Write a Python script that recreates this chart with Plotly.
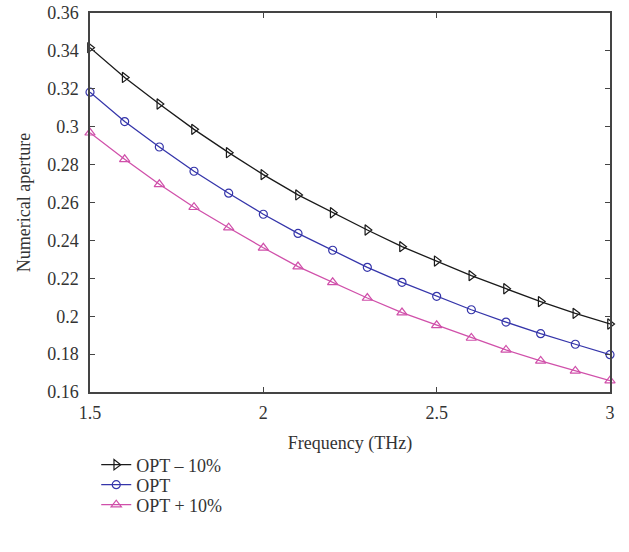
import plotly.graph_objects as go

freq = [1.5, 1.6, 1.7, 1.8, 1.9, 2.0, 2.1, 2.2, 2.3, 2.4, 2.5, 2.6, 2.7, 2.8, 2.9, 3.0]
opt_minus = [0.3417, 0.3260, 0.3120, 0.2986, 0.2863, 0.2747, 0.2640, 0.2546, 0.2455, 0.2367,
             0.2291, 0.2214, 0.2145, 0.2077, 0.2015, 0.1959]
opt = [0.3182, 0.3027, 0.2893, 0.2765, 0.2649, 0.2538, 0.2437, 0.2348, 0.2258, 0.2179,
       0.2105, 0.2034, 0.1969, 0.1908, 0.1852, 0.1797]
opt_plus = [0.2968, 0.2828, 0.2696, 0.2575, 0.2467, 0.2361, 0.2262, 0.2179, 0.2096, 0.2019,
            0.1952, 0.1885, 0.1822, 0.1764, 0.1711, 0.1660]

series_names = ["OPT \u2013 10%", "OPT", "OPT + 10%"]
x_ticks = [1.5, 2, 2.5, 3]
x_ticktext = ["1.5", "2", "2.5", "3"]
y_ticks = [0.16, 0.18, 0.2, 0.22, 0.24, 0.26, 0.28, 0.3, 0.32, 0.34, 0.36]
y_ticktext = ["0.16", "0.18", "0.2", "0.22", "0.24", "0.26", "0.28", "0.3", "0.32", "0.34", "0.36"]

FONT = "Liberation Serif"
FS = 18
TXT = "#333333"

fig = go.Figure()
styles = [
    (opt_minus, "#1a1a1a", "triangle-right-open", 9, "legend"),
    (opt, "#3535aa", "circle-open", 8, "legend2"),
    (opt_plus, "#d050aa", "triangle-up-open", 9, "legend3"),
]
for name, (ys, col, sym, sz, lg) in zip(series_names, styles):
    fig.add_trace(go.Scatter(
        x=freq, y=ys, name=name, mode="lines+markers",
        line=dict(color=col, width=1.3),
        marker=dict(symbol=sym, size=sz, color=col, line=dict(color=col, width=1.2)),
        cliponaxis=False, legend=lg,
    ))

axis_common = dict(
    showgrid=False, zeroline=False, showline=True, linecolor="#444444", linewidth=1.5,
    mirror="ticks", ticks="inside", ticklen=5, tickcolor="#444444", tickwidth=1,
    tickfont=dict(family=FONT, size=FS, color=TXT), automargin=False,
)
fig.update_xaxes(range=[1.5, 3], tickvals=x_ticks, ticktext=x_ticktext,
                 ticklabelstandoff=4,
                 title=dict(text="Frequency (THz)", font=dict(family=FONT, size=FS, color=TXT), standoff=14),
                 **axis_common)
fig.update_yaxes(range=[0.16, 0.36], tickvals=y_ticks, ticktext=y_ticktext,
                 ticklabelstandoff=6,
                 title=dict(text="Numerical aperture", font=dict(family=FONT, size=FS, color=TXT), standoff=12),
                 **axis_common)

leg_common = dict(x=0.012, xanchor="left", yanchor="middle",
                  font=dict(family=FONT, size=FS, color=TXT),
                  itemwidth=30, bgcolor="rgba(0,0,0,0)")
fig.update_layout(
    width=629, height=552,
    margin=dict(l=90, r=19, t=13, b=160),
    plot_bgcolor="white", paper_bgcolor="white",
    font=dict(family=FONT, size=FS, color=TXT),
    legend=dict(y=-0.1926, **leg_common),
    legend2=dict(y=-0.2454, **leg_common),
    legend3=dict(y=-0.2982, **leg_common),
    showlegend=True,
)

fig.write_html("out.html")
